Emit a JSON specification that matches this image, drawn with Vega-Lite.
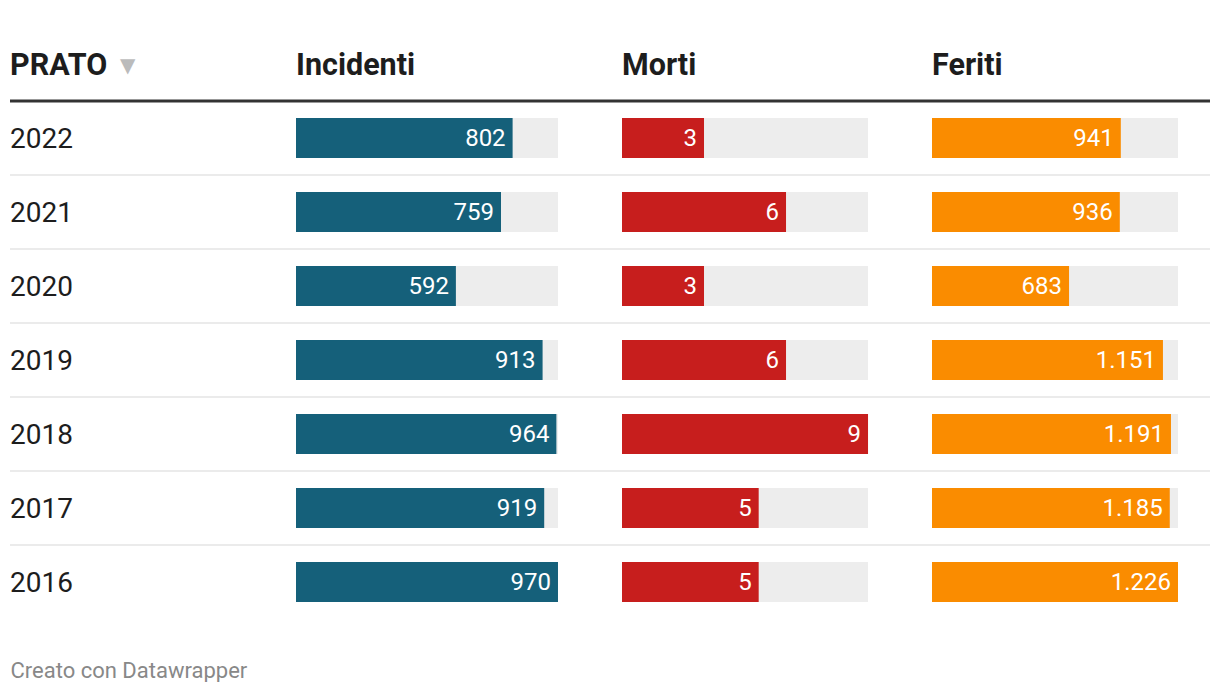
{
  "$schema": "https://vega.github.io/schema/vega-lite/v6.json",
  "padding": {"left": 8, "top": 27, "right": 10, "bottom": 0},
  "spacing": 0,
  "bounds": "flush",
  "background": "#ffffff",
  "config": {
    "view": {"stroke": null},
    "font": "Roboto",
    "concat": {"spacing": 0},
    "locale": {"number": {"decimal": ",", "thousands": ".", "grouping": [3], "currency": ["€", ""]}}
  },
  "datasets": {
    "rows": [
      {"anno": "2022", "inc": 802, "morti": 3, "feriti": 941},
      {"anno": "2021", "inc": 759, "morti": 6, "feriti": 936},
      {"anno": "2020", "inc": 592, "morti": 3, "feriti": 683},
      {"anno": "2019", "inc": 913, "morti": 6, "feriti": 1151},
      {"anno": "2018", "inc": 964, "morti": 9, "feriti": 1191},
      {"anno": "2017", "inc": 919, "morti": 5, "feriti": 1185},
      {"anno": "2016", "inc": 970, "morti": 5, "feriti": 1226}
    ],
    "head": [
      {"anno": "header", "col": "PRATO", "sort": "▼"},
      {"anno": "header", "col": "Incidenti", "sort": ""},
      {"anno": "header", "col": "Morti", "sort": ""},
      {"anno": "header", "col": "Feriti", "sort": ""}
    ]
  },
  "title": {
    "text": "Creato con Datawrapper",
    "orient": "bottom",
    "anchor": "start",
    "dx": 2,
    "fontSize": 22,
    "fontWeight": "normal",
    "color": "#888888",
    "font": "Roboto",
    "offset": 42
  },
  "hconcat": [
    {
      "width": 286,
      "height": 592,
      "layer": [
        {
          "data": {"name": "rows"},
          "transform": [{"filter": "datum.anno != '2016'"}],
          "mark": {"type": "rule", "color": "#ebebeb", "strokeWidth": 2},
          "encoding": {"y": {"field": "anno", "type": "nominal", "bandPosition": 1, "scale": {"domain": ["header", "2022", "2021", "2020", "2019", "2018", "2017", "2016"], "paddingInner": 0, "paddingOuter": 0}, "axis": null}}
        },
        {
          "data": {"name": "head"},
          "transform": [{"filter": "datum.col == 'PRATO'"}],
          "mark": {"type": "rule", "color": "#333333", "strokeWidth": 3},
          "encoding": {"y": {"field": "anno", "type": "nominal", "bandPosition": 1, "axis": null}}
        },
        {
          "data": {"name": "rows"},
          "mark": {"type": "text", "align": "left", "baseline": "middle", "dy": 2, "fontSize": 28, "color": "#1d1d1d"},
          "encoding": {
            "x": {"value": 0},
            "y": {"field": "anno", "type": "nominal", "axis": null},
            "text": {"field": "anno"}
          }
        },
        {
          "data": {"name": "head"},
          "transform": [{"filter": "datum.col == 'PRATO'"}],
          "mark": {"type": "text", "align": "left", "baseline": "middle", "dy": 2, "fontSize": 30.5, "fontWeight": "bold", "color": "#1d1d1d"},
          "encoding": {
            "x": {"value": 0},
            "y": {"field": "anno", "type": "nominal", "axis": null},
            "text": {"field": "col"}
          }
        },
        {
          "data": {"name": "head"},
          "transform": [{"filter": "datum.col == 'PRATO'"}],
          "mark": {"type": "text", "align": "left", "baseline": "middle", "fontSize": 20, "dx": 110, "dy": 2, "color": "#bbbbbb", "font": "DejaVu Sans"},
          "encoding": {
            "x": {"value": 0},
            "y": {"field": "anno", "type": "nominal", "axis": null},
            "text": {"field": "sort"}
          }
        }
      ]
    },
    {
      "width": 326,
      "height": 592,
      "layer": [
        {
          "data": {"name": "rows"},
          "transform": [{"filter": "datum.anno != '2016'"}],
          "mark": {"type": "rule", "color": "#ebebeb", "strokeWidth": 2},
          "encoding": {"y": {"field": "anno", "type": "nominal", "bandPosition": 1, "scale": {"domain": ["header", "2022", "2021", "2020", "2019", "2018", "2017", "2016"], "paddingInner": 0, "paddingOuter": 0}, "axis": null}}
        },
        {
          "data": {"name": "head"},
          "transform": [{"filter": "datum.col == 'Incidenti'"}],
          "mark": {"type": "rule", "color": "#333333", "strokeWidth": 3},
          "encoding": {"y": {"field": "anno", "type": "nominal", "bandPosition": 1, "axis": null}}
        },
        {
          "data": {"name": "rows"},
          "transform": [{"joinaggregate": [{"op": "max", "field": "inc", "as": "m"}]}],
          "mark": {"type": "bar", "color": "#ededed", "height": {"band": 0.54}},
          "encoding": {
            "x": {"field": "m", "type": "quantitative", "scale": {"domain": [0, 1207], "nice": false}, "axis": null},
            "y": {"field": "anno", "type": "nominal", "axis": null}
          }
        },
        {
          "data": {"name": "rows"},
          "mark": {"type": "bar", "color": "#15607a", "height": {"band": 0.54}},
          "encoding": {
            "x": {"field": "inc", "type": "quantitative", "axis": null},
            "y": {"field": "anno", "type": "nominal", "axis": null}
          }
        },
        {
          "data": {"name": "rows"},
          "mark": {"type": "text", "align": "right", "baseline": "middle", "dx": -7, "dy": 1, "fontSize": 24, "color": "#ffffff"},
          "encoding": {
            "x": {"field": "inc", "type": "quantitative", "axis": null},
            "y": {"field": "anno", "type": "nominal", "axis": null},
            "text": {"field": "inc", "type": "quantitative", "format": ",d"}
          }
        },
        {
          "data": {"name": "head"},
          "transform": [{"filter": "datum.col == 'Incidenti'"}],
          "mark": {"type": "text", "align": "left", "baseline": "middle", "dy": 2, "fontSize": 30.5, "fontWeight": "bold", "color": "#1d1d1d"},
          "encoding": {
            "x": {"datum": 0, "type": "quantitative", "axis": null},
            "y": {"field": "anno", "type": "nominal", "axis": null},
            "text": {"field": "col"}
          }
        }
      ]
    },
    {
      "width": 310,
      "height": 592,
      "layer": [
        {
          "data": {"name": "rows"},
          "transform": [{"filter": "datum.anno != '2016'"}],
          "mark": {"type": "rule", "color": "#ebebeb", "strokeWidth": 2},
          "encoding": {"y": {"field": "anno", "type": "nominal", "bandPosition": 1, "scale": {"domain": ["header", "2022", "2021", "2020", "2019", "2018", "2017", "2016"], "paddingInner": 0, "paddingOuter": 0}, "axis": null}}
        },
        {
          "data": {"name": "head"},
          "transform": [{"filter": "datum.col == 'Morti'"}],
          "mark": {"type": "rule", "color": "#333333", "strokeWidth": 3},
          "encoding": {"y": {"field": "anno", "type": "nominal", "bandPosition": 1, "axis": null}}
        },
        {
          "data": {"name": "rows"},
          "transform": [{"joinaggregate": [{"op": "max", "field": "morti", "as": "m"}]}],
          "mark": {"type": "bar", "color": "#ededed", "height": {"band": 0.54}},
          "encoding": {
            "x": {"field": "m", "type": "quantitative", "scale": {"domain": [0, 11.34], "nice": false}, "axis": null},
            "y": {"field": "anno", "type": "nominal", "axis": null}
          }
        },
        {
          "data": {"name": "rows"},
          "mark": {"type": "bar", "color": "#c71e1d", "height": {"band": 0.54}},
          "encoding": {
            "x": {"field": "morti", "type": "quantitative", "axis": null},
            "y": {"field": "anno", "type": "nominal", "axis": null}
          }
        },
        {
          "data": {"name": "rows"},
          "mark": {"type": "text", "align": "right", "baseline": "middle", "dx": -7, "dy": 1, "fontSize": 24, "color": "#ffffff"},
          "encoding": {
            "x": {"field": "morti", "type": "quantitative", "axis": null},
            "y": {"field": "anno", "type": "nominal", "axis": null},
            "text": {"field": "morti", "type": "quantitative", "format": ",d"}
          }
        },
        {
          "data": {"name": "head"},
          "transform": [{"filter": "datum.col == 'Morti'"}],
          "mark": {"type": "text", "align": "left", "baseline": "middle", "dy": 2, "fontSize": 30.5, "fontWeight": "bold", "color": "#1d1d1d"},
          "encoding": {
            "x": {"datum": 0, "type": "quantitative", "axis": null},
            "y": {"field": "anno", "type": "nominal", "axis": null},
            "text": {"field": "col"}
          }
        }
      ]
    },
    {
      "width": 278,
      "height": 592,
      "layer": [
        {
          "data": {"name": "rows"},
          "transform": [{"filter": "datum.anno != '2016'"}],
          "mark": {"type": "rule", "color": "#ebebeb", "strokeWidth": 2},
          "encoding": {"y": {"field": "anno", "type": "nominal", "bandPosition": 1, "scale": {"domain": ["header", "2022", "2021", "2020", "2019", "2018", "2017", "2016"], "paddingInner": 0, "paddingOuter": 0}, "axis": null}}
        },
        {
          "data": {"name": "head"},
          "transform": [{"filter": "datum.col == 'Feriti'"}],
          "mark": {"type": "rule", "color": "#333333", "strokeWidth": 3},
          "encoding": {"y": {"field": "anno", "type": "nominal", "bandPosition": 1, "axis": null}}
        },
        {
          "data": {"name": "rows"},
          "transform": [{"joinaggregate": [{"op": "max", "field": "feriti", "as": "m"}]}],
          "mark": {"type": "bar", "color": "#ededed", "height": {"band": 0.54}},
          "encoding": {
            "x": {"field": "m", "type": "quantitative", "scale": {"domain": [0, 1385.5], "nice": false}, "axis": null},
            "y": {"field": "anno", "type": "nominal", "axis": null}
          }
        },
        {
          "data": {"name": "rows"},
          "mark": {"type": "bar", "color": "#fa8c00", "height": {"band": 0.54}},
          "encoding": {
            "x": {"field": "feriti", "type": "quantitative", "axis": null},
            "y": {"field": "anno", "type": "nominal", "axis": null}
          }
        },
        {
          "data": {"name": "rows"},
          "mark": {"type": "text", "align": "right", "baseline": "middle", "dx": -7, "dy": 1, "fontSize": 24, "color": "#ffffff"},
          "encoding": {
            "x": {"field": "feriti", "type": "quantitative", "axis": null},
            "y": {"field": "anno", "type": "nominal", "axis": null},
            "text": {"field": "feriti", "type": "quantitative", "format": ",d"}
          }
        },
        {
          "data": {"name": "head"},
          "transform": [{"filter": "datum.col == 'Feriti'"}],
          "mark": {"type": "text", "align": "left", "baseline": "middle", "dy": 2, "fontSize": 30.5, "fontWeight": "bold", "color": "#1d1d1d"},
          "encoding": {
            "x": {"datum": 0, "type": "quantitative", "axis": null},
            "y": {"field": "anno", "type": "nominal", "axis": null},
            "text": {"field": "col"}
          }
        }
      ]
    }
  ]
}
